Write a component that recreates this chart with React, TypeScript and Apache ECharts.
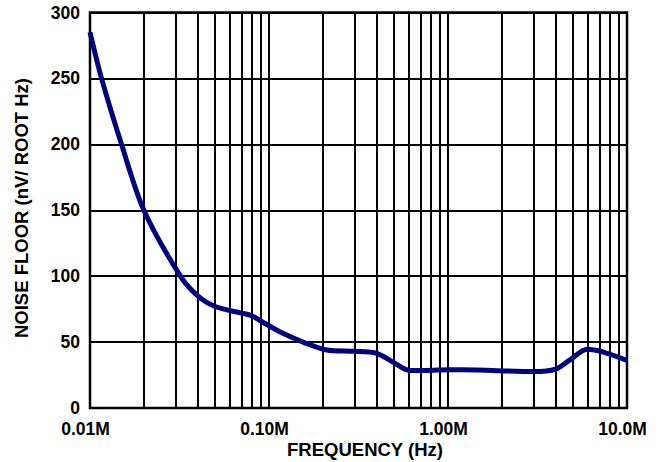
import React, { useEffect, useRef } from "react";
import * as echarts from "echarts";

// Frequency (MHz) and noise floor (nV/√Hz)
const freqs = [0.01, 0.0116, 0.015, 0.02, 0.032, 0.04, 0.05, 0.07, 0.08, 0.09, 0.118, 0.155, 0.21, 0.3, 0.4, 0.49, 0.61, 0.76, 1.0, 1.2, 3.0, 4.0, 4.8, 6.0, 10.0];
const noise = [285, 250, 200, 150, 100, 85, 77, 72, 70, 66, 57, 50, 44, 43, 41.5, 35, 28.5, 28.5, 29, 29, 27.6, 29.5, 36.5, 44.5, 36];

const xTickLabels = ["0.01M", "0.10M", "1.00M", "10.0M"];
const minorGridFreqs = [
  0.02, 0.03, 0.04, 0.05, 0.06, 0.07, 0.08, 0.09,
  0.2, 0.3, 0.4, 0.5, 0.6, 0.7, 0.8, 0.9,
  2, 3, 4, 5, 6, 7, 8, 9,
];
const xTitle = "FREQUENCY (Hz)";
const yTitle = "NOISE FLOOR (nV/ ROOT Hz)";

const FONT = "'Liberation Sans', Arial, Helvetica, sans-serif";

export default function App() {
  const ref = useRef<HTMLDivElement>(null);
  useEffect(() => {
    if (!ref.current) return;
    const chart = echarts.init(ref.current, null, { renderer: "svg" });
    chart.setOption({
      animation: false,
      backgroundColor: "#ffffff",
      grid: {
        left: 90,
        top: 12.5,
        right: 39,
        bottom: 54,
        show: true,
        borderColor: "#000",
        borderWidth: 2.5,
        backgroundColor: "transparent",
      },
      xAxis: {
        type: "log",
        logBase: 10,
        min: 0.01,
        max: 10,
        axisLine: { show: false },
        axisTick: { show: false },
        splitLine: { show: true, lineStyle: { color: "#000", width: 2 } },
        axisLabel: {
          color: "#000",
          fontFamily: FONT,
          fontWeight: "bold",
          fontSize: 17.5,
          margin: 12,
          padding: [0, 9, 0, 0],
          formatter: (v: number) => {
            const i = Math.round(Math.log10(v)) + 2;
            return xTickLabels[i] ?? "";
          },
        },
      },
      yAxis: {
        type: "value",
        min: 0,
        max: 300,
        interval: 50,
        axisLine: { show: false },
        axisTick: { show: false },
        splitLine: { show: true, lineStyle: { color: "#000", width: 2 } },
        axisLabel: {
          color: "#000",
          fontFamily: FONT,
          fontWeight: "bold",
          fontSize: 17.5,
          margin: 10,
        },
      },
      graphic: [
        {
          type: "text",
          x: 365,
          y: 449.5,
          style: {
            text: xTitle,
            fill: "#000",
            font: `bold 18.5px ${FONT}`,
            textAlign: "center",
            textVerticalAlign: "middle",
          },
        },
        {
          type: "text",
          x: 21,
          y: 208,
          rotation: Math.PI / 2,
          style: {
            text: yTitle,
            fill: "#000",
            font: `bold 18.5px ${FONT}`,
            textAlign: "center",
            textVerticalAlign: "middle",
          },
        },
      ],
      series: [
        {
          type: "line",
          data: [],
          z: 1,
          silent: true,
          markLine: {
            silent: true,
            symbol: ["none", "none"],
            label: { show: false },
            lineStyle: { color: "#000", width: 2, type: "solid" },
            data: minorGridFreqs.map((f) => ({ xAxis: f })),
          },
        },
        {
          type: "line",
          z: 5,
          data: freqs.map((f, i) => [f, noise[i]]),
          smooth: 0.3,
          symbol: "none",
          lineStyle: { color: "#000080", width: 5 },
        },
      ],
    });
    return () => chart.dispose();
  }, []);
  return (
    <div
      ref={ref}
      style={{ position: "fixed", left: 0, top: 0, width: 666, height: 462 }}
    />
  );
}
